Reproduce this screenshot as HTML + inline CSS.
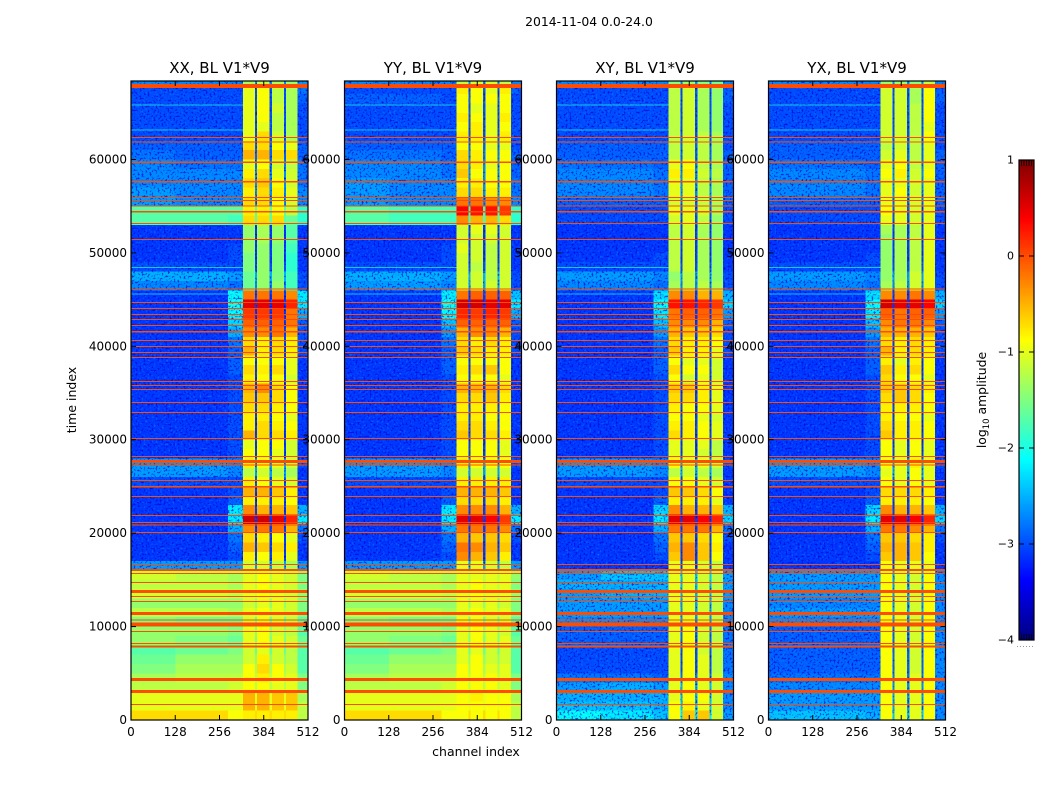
<!DOCTYPE html>
<html lang="en">
<head>
<meta charset="utf-8">
<title>2014-11-04 0.0-24.0</title>
<style>
html,body{margin:0;padding:0;background:#fff;width:1050px;height:800px;overflow:hidden}
svg{display:block}
text{font-family:"DejaVu Sans","Liberation Sans",sans-serif;fill:#000}
</style>
</head>
<body>
<svg id="chart" xmlns="http://www.w3.org/2000/svg" width="1050" height="800" viewBox="0 0 1050 800">
<defs id="defs">
<filter id="speckleLight" x="0" y="0" width="100%" height="100%" color-interpolation-filters="sRGB">
<feTurbulence type="fractalNoise" baseFrequency="0.48" numOctaves="1" seed="4"/>
<feColorMatrix type="matrix" values="0 0 0 0 0  0 0 0 0 0.6  0 0 0 0 1  4 0 0 0 -2.2"/>
</filter>
<filter id="speckleDark" x="0" y="0" width="100%" height="100%" color-interpolation-filters="sRGB">
<feTurbulence type="fractalNoise" baseFrequency="0.5" numOctaves="1" seed="11"/>
<feColorMatrix type="matrix" values="0 0 0 0 0  0 0 0 0 0  0 0 0 0 0.85  0 5 0 0 -2.6"/>
</filter>
</defs>
<text x="589" y="26" text-anchor="middle" font-size="12.4">2014-11-04 0.0-24.0</text>
<text transform="translate(76,400) rotate(-90)" text-anchor="middle" font-size="12.5">time index</text>
<text x="476" y="756" text-anchor="middle" font-size="12.5">channel index</text>
<text transform="translate(986,400) rotate(-90)" text-anchor="middle" font-size="12.4">log<tspan font-size="8.5" dy="3">10</tspan><tspan dy="-3"> amplitude</tspan></text>
<g id="panels"></g>
<g id="colorbar"></g>
</svg>
<script>
const panelTitles = ["XX, BL V1*V9", "YY, BL V1*V9", "XY, BL V1*V9", "YX, BL V1*V9"];
const xTicks = [0, 128, 256, 384, 512];
const yTicks = [0, 10000, 20000, 30000, 40000, 50000, 60000];
const colorbarTicks = [-4, -3, -2, -1, 0, 1];
const timeMax = 68400;
const channelMax = 512;
const rowSpan = 1000;
const channelEdges = [0, 128, 280, 324, 359, 365, 401, 408, 442, 448, 481, 512];
const channelColumn = [0, 1, 2, 3, 1, 4, 1, 5, 1, 6, 7];
const rfiTimes = [67870,62370,61870,59700,57620,55950,55630,55020,54410,53170,51460,46140,44710,44070,43430,42890,42210,41560,40640,40000,39360,38820,36250,35830,35400,34010,32940,30150,28230,27690,27300,25660,24970,23950,21910,21160,20870,20090,16670,16060,15700,14740,13780,13240,12710,11420,10700,10200,9490,8170,7850,4360,3070,1680];
const rfiDurations = [430,100,100,200,200,100,100,150,150,100,100,100,100,100,100,100,100,200,100,100,100,100,100,100,100,100,100,100,100,320,100,100,200,100,100,100,100,100,100,200,100,100,320,100,100,320,150,420,100,100,200,320,320,100];
const rfiLevel = 0;
const faintTimes = [65860, 63190, 48490, 45670];
const faintLevel = -2.0;
const colorMin = -4;
const colorMax = 1;

// Rows run from t = 68000 down to t = 0, one per rowSpan.
// Columns: left, mid, shoulder, band1, band2, band3, band4, right. Tenths of log10 amplitude.
const xxLevels = [
[-27,-27,-27,-13,-12,-13,-14,-26],[-30,-30,-30,-10,-9,-12,-13,-28],[-30,-30,-30,-10,-9,-12,-13,-29],[-30,-30,-30,-10,-9,-11,-13,-30],[-30,-30,-30,-10,-9,-12,-13,-30],[-30,-30,-30,-10,-10,-12,-13,-30],[-30,-30,-30,-10,-7,-11,-13,-30],[-29,-29,-29,-7,-7,-9,-10,-29],[-28,-29,-29,-5,-5,-7,-7,-29],[-27,-28,-28,-10,-9,-11,-12,-28],[-27,-27,-27,-8,-7,-10,-11,-28],[-27,-27,-27,-7,-6,-9,-11,-28],[-26,-27,-27,-8,-7,-8,-10,-27],[-26,-27,-27,-7,-7,-9,-11,-27],[-17,-17,-17,-8,-8,-9,-12,-19],[-17,-17,-18,-7,-7,-7,-16,-19],
[-31,-31,-31,-14,-13,-14,-17,-31],[-31,-31,-31,-14,-13,-14,-17,-31],[-31,-31,-30,-14,-14,-15,-18,-31],[-31,-31,-30,-15,-14,-15,-19,-31],[-30,-30,-30,-15,-14,-15,-19,-31],[-25,-25,-26,-16,-14,-15,-18,-30],[-27,-27,-28,-16,-14,-14,-18,-30],
[-31,-31,-21,-2,-2,-2,-3,-22],[-31,-31,-20,5,5,5,2,-22],[-31,-31,-21,1,1,1,-2,-25],[-31,-31,-23,-1,-1,-1,-2,-29],[-31,-31,-25,-3,-3,-2,-5,-30],[-31,-31,-28,-7,-8,-7,-8,-30],[-31,-31,-29,-5,-8,-7,-8,-30],[-31,-31,-29,-9,-9,-9,-10,-31],[-31,-31,-29,-7,-8,-7,-10,-31],[-31,-31,-30,-8,-9,-9,-11,-31],[-31,-31,-30,-5,-3,-7,-9,-31],[-31,-31,-30,-6,-6,-7,-9,-31],[-31,-31,-30,-7,-7,-8,-9,-31],[-31,-31,-30,-8,-8,-9,-10,-31],[-31,-31,-30,-8,-7,-8,-9,-31],[-31,-31,-30,-5,-7,-7,-8,-31],[-31,-31,-30,-10,-9,-9,-11,-31],[-31,-31,-30,-9,-9,-10,-11,-31],[-26,-26,-27,-8,-9,-10,-11,-30],[-26,-26,-27,-12,-11,-12,-13,-31],[-30,-30,-30,-8,-9,-10,-11,-31],[-31,-31,-30,-5,-5,-6,-8,-31],[-31,-31,-29,-8,-8,-8,-9,-31],[-31,-31,-22,-3,-5,-5,-6,-25],[-31,-31,-22,6,6,5,2,-22],[-31,-31,-25,-3,-2,-2,-5,-28],[-31,-31,-28,-7,-8,-9,-10,-30],[-31,-31,-29,-5,-6,-7,-8,-31],[-31,-31,-30,-8,-9,-8,-10,-31],[-26,-26,-26,-11,-11,-12,-13,-26],
[-11,-12,-13,-10,-9,-10,-11,-15],[-12,-12,-13,-10,-9,-10,-11,-15],[-11,-11,-12,-10,-9,-10,-11,-14],[-14,-14,-14,-11,-10,-10,-11,-15],[-12,-12,-13,-10,-9,-10,-11,-15],[-15,-16,-16,-11,-10,-11,-12,-17],[-14,-14,-15,-10,-9,-11,-12,-17],[-14,-15,-16,-10,-9,-10,-11,-16],[-17,-16,-15,-11,-10,-11,-12,-17],[-16,-14,-14,-11,-8,-11,-12,-17],[-15,-13,-13,-9,-7,-9,-11,-17],[-13,-12,-12,-9,-8,-9,-10,-15],[-12,-12,-11,-9,-9,-10,-10,-15],[-10,-10,-10,-5,-5,-6,-6,-13],[-10,-10,-10,-5,-5,-6,-6,-12],[-7,-7,-9,-8,-8,-8,-8,-12]
];
const yyLevels = [
[-27,-27,-27,-12,-11,-11,-12,-27],[-30,-30,-30,-8,-9,-10,-8,-29],[-29,-29,-30,-9,-9,-9,-9,-30],[-30,-30,-30,-9,-10,-10,-9,-30],[-30,-30,-30,-8,-9,-10,-8,-30],[-30,-30,-30,-9,-8,-10,-9,-30],[-30,-30,-30,-8,-8,-10,-8,-30],[-29,-29,-29,-9,-9,-10,-10,-30],[-28,-28,-29,-7,-8,-9,-9,-29],[-27,-27,-28,-7,-8,-10,-9,-29],[-27,-27,-28,-6,-9,-9,-9,-29],[-26,-27,-27,-8,-8,-9,-9,-28],[-26,-27,-27,-7,-7,-8,-8,-28],[-26,-27,-27,-2,-2,-3,-3,-27],[-17,-18,-18,4,3,3,1,-19],[-17,-18,-18,-3,-5,-5,-7,-19],
[-31,-31,-31,-11,-10,-10,-11,-31],[-31,-31,-31,-11,-11,-11,-11,-31],[-31,-31,-30,-10,-11,-12,-11,-31],[-31,-31,-30,-11,-11,-12,-11,-31],[-30,-30,-30,-11,-12,-12,-11,-31],[-25,-25,-26,-11,-11,-12,-11,-30],[-26,-26,-27,-11,-11,-11,-11,-30],
[-31,-31,-22,-2,-1,-1,-1,-24],[-31,-31,-20,6,6,5,5,-22],[-31,-31,-21,2,1,2,1,-25],[-31,-31,-24,-1,-1,-1,-1,-29],[-31,-31,-26,-5,-3,-3,-5,-30],[-31,-31,-28,-7,-8,-7,-8,-30],[-31,-31,-29,-6,-7,-8,-8,-30],[-31,-31,-29,-9,-9,-9,-9,-31],[-31,-31,-29,-8,-7,-6,-9,-31],[-31,-31,-30,-9,-9,-9,-10,-31],[-31,-31,-30,-5,-5,-5,-7,-31],[-31,-31,-30,-7,-7,-6,-8,-31],[-31,-31,-30,-8,-8,-8,-9,-31],[-31,-31,-30,-8,-8,-9,-9,-31],[-31,-31,-30,-7,-7,-8,-9,-31],[-31,-31,-30,-6,-7,-7,-8,-31],[-31,-31,-30,-9,-9,-9,-10,-31],[-31,-31,-30,-9,-9,-9,-10,-31],[-26,-26,-27,-8,-9,-9,-9,-30],[-26,-26,-27,-11,-11,-11,-11,-31],[-30,-30,-30,-8,-8,-8,-8,-31],[-31,-31,-30,-5,-5,-5,-6,-31],[-31,-31,-29,-7,-7,-7,-8,-31],[-31,-31,-22,-3,-3,-3,-5,-25],[-31,-31,-22,5,5,4,1,-22],[-31,-31,-25,-2,-2,-2,-3,-28],[-31,-31,-28,-5,-6,-6,-7,-30],[-31,-31,-29,-2,-3,-5,-6,-31],[-31,-31,-30,-3,-5,-6,-8,-31],[-26,-26,-26,-10,-10,-11,-12,-26],
[-11,-12,-13,-10,-10,-10,-10,-14],[-12,-12,-13,-10,-9,-10,-10,-15],[-11,-11,-12,-10,-9,-10,-10,-14],[-14,-14,-14,-10,-10,-10,-11,-15],[-12,-12,-13,-10,-9,-10,-10,-15],[-15,-16,-16,-10,-10,-11,-11,-17],[-14,-14,-15,-10,-9,-10,-11,-17],[-14,-15,-16,-10,-9,-10,-10,-16],[-17,-16,-15,-10,-10,-11,-11,-17],[-16,-14,-14,-10,-9,-11,-11,-17],[-15,-13,-13,-9,-9,-10,-10,-17],[-13,-12,-12,-9,-9,-9,-10,-15],[-12,-12,-11,-9,-9,-9,-10,-15],[-10,-10,-10,-9,-8,-9,-9,-13],[-10,-10,-10,-9,-9,-9,-9,-12],[-7,-7,-9,-9,-9,-9,-9,-12]
];
const xyLevels = [
[-27,-27,-27,-15,-14,-15,-16,-27],[-30,-30,-30,-12,-11,-13,-14,-29],[-30,-30,-30,-12,-11,-13,-14,-29],[-30,-30,-30,-12,-11,-13,-14,-30],[-30,-30,-30,-12,-11,-13,-14,-30],[-30,-30,-30,-12,-11,-13,-14,-30],[-30,-30,-30,-12,-11,-12,-13,-30],[-29,-29,-29,-12,-11,-12,-13,-30],[-29,-29,-29,-12,-11,-12,-13,-29],[-28,-28,-29,-10,-9,-12,-13,-29],[-27,-27,-28,-8,-8,-11,-12,-29],[-27,-27,-28,-10,-10,-12,-13,-29],[-27,-27,-28,-10,-10,-12,-13,-29],[-29,-29,-29,-11,-11,-12,-13,-29],[-30,-30,-30,-10,-10,-11,-13,-30],[-30,-30,-30,-11,-10,-12,-14,-30],
[-31,-31,-31,-12,-11,-13,-14,-31],[-31,-31,-31,-12,-11,-13,-14,-31],[-31,-31,-31,-12,-11,-13,-14,-31],[-31,-31,-30,-12,-11,-13,-14,-31],[-30,-30,-30,-12,-11,-13,-14,-31],[-26,-26,-27,-14,-12,-13,-14,-30],[-27,-27,-28,-13,-12,-12,-13,-30],
[-31,-31,-23,-3,-3,-5,-5,-25],[-31,-31,-21,3,3,2,1,-23],[-31,-31,-22,-2,-1,-1,-2,-26],[-31,-31,-24,-3,-3,-3,-5,-29],[-31,-31,-26,-5,-6,-6,-7,-30],[-31,-31,-28,-7,-8,-8,-9,-30],[-31,-31,-29,-6,-8,-8,-10,-30],[-31,-31,-29,-9,-10,-10,-11,-31],[-31,-31,-29,-7,-9,-9,-11,-31],[-31,-31,-30,-9,-11,-10,-11,-31],[-31,-31,-30,-6,-6,-8,-10,-31],[-31,-31,-30,-7,-7,-8,-10,-31],[-31,-31,-30,-8,-9,-9,-10,-31],[-31,-31,-30,-9,-9,-10,-11,-31],[-31,-31,-30,-8,-8,-9,-10,-31],[-31,-31,-30,-7,-8,-9,-10,-31],[-31,-31,-30,-10,-10,-10,-12,-31],[-31,-31,-30,-10,-10,-11,-12,-31],[-26,-26,-27,-9,-10,-10,-11,-30],[-26,-26,-27,-12,-11,-12,-13,-31],[-30,-30,-30,-9,-9,-10,-11,-31],[-31,-31,-30,-6,-6,-7,-9,-31],[-31,-31,-29,-8,-8,-8,-10,-31],[-31,-31,-23,-3,-5,-5,-6,-25],[-31,-31,-22,5,5,4,2,-23],[-31,-31,-25,-2,-2,-2,-5,-28],[-31,-31,-28,-6,-6,-7,-9,-30],[-31,-31,-29,-5,-3,-6,-8,-31],[-31,-31,-30,-6,-3,-6,-9,-31],[-31,-31,-31,-10,-10,-11,-12,-31],
[-26,-24,-24,-10,-10,-11,-12,-26],[-25,-25,-25,-10,-10,-11,-12,-26],[-26,-25,-25,-10,-10,-11,-12,-26],[-26,-26,-26,-10,-10,-11,-12,-27],[-26,-26,-26,-10,-10,-11,-12,-27],[-27,-27,-27,-10,-10,-11,-12,-27],[-29,-29,-29,-10,-9,-11,-12,-28],[-29,-29,-29,-10,-9,-11,-12,-28],[-30,-30,-30,-10,-9,-11,-12,-28],[-30,-30,-30,-10,-9,-10,-12,-28],[-30,-30,-30,-10,-9,-10,-12,-28],[-28,-28,-29,-10,-9,-10,-11,-27],[-26,-25,-26,-10,-9,-10,-11,-27],[-25,-25,-25,-10,-9,-9,-11,-27],[-24,-24,-25,-9,-8,-10,-11,-27],[-21,-22,-24,-9,-6,-6,-11,-26]
];
const yxLevels = [
[-27,-27,-27,-14,-14,-15,-12,-27],[-30,-30,-30,-11,-11,-13,-9,-29],[-30,-30,-30,-11,-11,-13,-9,-29],[-30,-30,-30,-11,-11,-12,-9,-30],[-30,-30,-30,-11,-11,-12,-9,-30],[-30,-30,-30,-11,-11,-12,-10,-30],[-30,-30,-30,-11,-11,-12,-9,-30],[-29,-29,-29,-12,-11,-12,-10,-30],[-29,-29,-29,-11,-10,-12,-10,-29],[-28,-28,-29,-10,-9,-12,-10,-29],[-27,-27,-28,-9,-8,-11,-9,-29],[-27,-27,-28,-10,-10,-11,-10,-29],[-27,-27,-28,-10,-9,-11,-10,-29],[-29,-29,-29,-10,-10,-11,-10,-29],[-30,-30,-30,-9,-10,-11,-10,-30],[-30,-30,-30,-10,-10,-11,-10,-30],
[-31,-31,-31,-13,-13,-12,-10,-31],[-31,-31,-31,-14,-13,-12,-10,-31],[-31,-31,-31,-14,-13,-12,-10,-31],[-31,-31,-30,-14,-13,-12,-10,-31],[-30,-30,-30,-14,-13,-12,-10,-31],[-26,-26,-27,-14,-13,-11,-10,-30],[-27,-27,-28,-13,-12,-11,-10,-30],
[-31,-31,-23,-3,-3,-2,-3,-25],[-31,-31,-21,6,5,5,4,-23],[-31,-31,-22,-1,-2,-1,-1,-26],[-31,-31,-24,-3,-2,-2,-3,-29],[-31,-31,-26,-5,-5,-5,-6,-30],[-31,-31,-28,-7,-8,-7,-8,-30],[-31,-31,-29,-5,-8,-7,-8,-30],[-31,-31,-29,-8,-10,-8,-9,-31],[-31,-31,-29,-6,-8,-7,-9,-31],[-31,-31,-30,-7,-9,-9,-10,-31],[-31,-31,-30,-6,-6,-7,-8,-31],[-31,-31,-30,-7,-6,-7,-9,-31],[-31,-31,-30,-8,-8,-8,-9,-31],[-31,-31,-30,-8,-9,-9,-10,-31],[-31,-31,-30,-7,-8,-8,-9,-31],[-31,-31,-30,-6,-8,-8,-9,-31],[-31,-31,-30,-9,-10,-9,-10,-31],[-31,-31,-30,-9,-10,-9,-10,-31],[-26,-26,-27,-9,-10,-8,-10,-30],[-26,-26,-27,-10,-10,-9,-10,-31],[-30,-30,-30,-9,-10,-9,-10,-31],[-31,-31,-30,-7,-7,-7,-8,-31],[-31,-31,-29,-8,-8,-8,-9,-31],[-31,-31,-23,-3,-5,-5,-6,-25],[-31,-31,-22,5,5,4,2,-23],[-31,-31,-25,-2,-2,-3,-5,-28],[-31,-31,-28,-6,-6,-7,-8,-30],[-31,-31,-29,-5,-5,-6,-8,-31],[-31,-31,-30,-6,-5,-6,-9,-31],[-31,-31,-31,-9,-10,-10,-10,-31],
[-26,-26,-26,-9,-10,-11,-9,-27],[-26,-26,-26,-9,-10,-11,-9,-27],[-26,-26,-26,-9,-10,-11,-9,-27],[-27,-27,-27,-9,-10,-11,-9,-27],[-26,-26,-26,-9,-10,-11,-9,-27],[-27,-27,-27,-9,-10,-11,-9,-27],[-29,-29,-29,-9,-10,-11,-9,-27],[-29,-29,-29,-9,-10,-11,-9,-27],[-29,-29,-29,-9,-10,-11,-9,-27],[-29,-29,-29,-9,-10,-11,-9,-27],[-29,-29,-29,-9,-10,-11,-9,-27],[-28,-28,-28,-9,-10,-10,-9,-27],[-27,-27,-27,-9,-10,-10,-9,-27],[-26,-26,-26,-9,-10,-10,-9,-27],[-26,-26,-26,-9,-10,-10,-9,-27],[-24,-24,-25,-9,-10,-10,-9,-27]
];
const panelLevels = [xxLevels, yyLevels, xyLevels, yxLevels];
const panelKeys = ["xx", "yy", "xy", "yx"];
const speckleCeiling = -20;

const SVGNS = "http://www.w3.org/2000/svg";
const panelLefts = [131, 344.5, 556.5, 768.5];
const panelWidth = 177;
const plotTop = 81;
const plotHeight = 639;

function jet(v) {
  const t = (v - colorMin) / (colorMax - colorMin);
  const ramp = (x) => Math.max(0, Math.min(1, x));
  const r = ramp(Math.min(4 * t - 1.5, -4 * t + 4.5));
  const g = ramp(Math.min(4 * t - 0.5, -4 * t + 3.5));
  const b = ramp(Math.min(4 * t + 0.5, -4 * t + 2.5));
  return "rgb(" + Math.round(r * 255) + "," + Math.round(g * 255) + "," + Math.round(b * 255) + ")";
}
function make(tag, parent, props, content) {
  const el = document.createElementNS(SVGNS, tag);
  for (const k in props) el.setAttribute(k, props[k]);
  if (content !== undefined) el.textContent = content;
  parent.appendChild(el);
  return el;
}
const timeToY = (t) => plotTop + plotHeight * (1 - t / timeMax);

const panelsRoot = document.getElementById("panels");
const defsRoot = document.getElementById("defs");
panelTitles.forEach(function (title, p) {
  const left = panelLefts[p];
  const channelToX = (c) => left + panelWidth * c / channelMax;
  const key = panelKeys[p];
  const levels = panelLevels[p];
  const group = make("g", panelsRoot, {});
  
  

  const speckleMask = make("mask", defsRoot, {id: "speckleMask" + p, maskUnits: "userSpaceOnUse", x: 0, y: 0, width: 1050, height: 800});
  levels.forEach(function (row, r) {
    const tLow = (levels.length - 1 - r) * rowSpan;
    const tHigh = Math.min(tLow + rowSpan, timeMax);
    const y0 = timeToY(tHigh);
    const y1 = timeToY(tLow);
    channelColumn.forEach(function (col, c) {
      const x0 = channelToX(channelEdges[c]);
      const x1 = channelToX(channelEdges[c + 1]);
      const cell = make("rect", group, {x: x0, y: y0, width: x1 - x0, height: y1 - y0, fill: jet(row[col] / 10), "shape-rendering": "crispEdges"});
      
      
      if (row[col] <= speckleCeiling) {
        make("rect", speckleMask, {x: x0, y: y0, width: x1 - x0, height: y1 - y0, fill: "#fff", "shape-rendering": "crispEdges"});
      }
    });
  });

  const lightHolder = make("g", group, {mask: "url(#speckleMask" + p + ")", opacity: 0.55});
  
  
  make("rect", lightHolder, {x: left, y: plotTop, width: panelWidth, height: plotHeight, filter: "url(#speckleLight)"});
  const darkHolder = make("g", group, {mask: "url(#speckleMask" + p + ")", opacity: 0.7});
  
  
  make("rect", darkHolder, {x: left, y: plotTop, width: panelWidth, height: plotHeight, filter: "url(#speckleDark)"});

  faintTimes.forEach(function (t) {
    const fl = make("rect", group, {x: left, y: timeToY(t), width: channelToX(324) - left, height: 1, fill: jet(faintLevel), opacity: 0.7, "shape-rendering": "crispEdges"});
    
    
  });

  rfiTimes.forEach(function (t, i) {
    const h = Math.max(1, rfiDurations[i] * plotHeight / timeMax);
    const line = make("rect", group, {x: left, y: timeToY(t) - h / 2, width: panelWidth, height: h, fill: jet(rfiLevel), "shape-rendering": "crispEdges"});
    
    
  });

  const frame = make("rect", group, {x: left, y: plotTop, width: panelWidth, height: plotHeight, fill: "none", stroke: "#000", "stroke-width": 1.2});
  
  

  xTicks.forEach(function (c) {
    const x = channelToX(c);
    const tb = make("line", group, {x1: x, x2: x, y1: plotTop + plotHeight, y2: plotTop + plotHeight - 5, stroke: "#000"});
    
    
    const tt = make("line", group, {x1: x, x2: x, y1: plotTop, y2: plotTop + 5, stroke: "#000"});
    
    
    const lab = make("text", group, {x: x, y: plotTop + plotHeight + 16, "text-anchor": "middle", "font-size": 12}, String(c));
    
    
  });
  yTicks.forEach(function (t) {
    const y = timeToY(t);
    const tl = make("line", group, {x1: left, x2: left + 5, y1: y, y2: y, stroke: "#000"});
    
    
    const tr = make("line", group, {x1: left + panelWidth, x2: left + panelWidth - 5, y1: y, y2: y, stroke: "#000"});
    
    
    const lab = make("text", group, {x: left - 4, y: y + 4, "text-anchor": "end", "font-size": 12}, String(t));
    
    
  });
  const ttl = make("text", group, {x: left + panelWidth / 2, y: 73, "text-anchor": "middle", "font-size": 15}, title);
  
  
});

const cbRoot = document.getElementById("colorbar");
const cbLeft = 1019, cbWidth = 15, cbTop = 160, cbHeight = 480;
const cbY = (v) => cbTop + cbHeight * (colorMax - v) / (colorMax - colorMin);
for (let px = 0; px < cbHeight; px += 2) {
  const v = colorMax - (px + 1) / cbHeight * (colorMax - colorMin);
  const seg = make("rect", cbRoot, {x: cbLeft, y: cbTop + px, width: cbWidth, height: 2, fill: jet(v), "shape-rendering": "crispEdges"});
  
  
}
const cbFrame = make("rect", cbRoot, {x: cbLeft, y: cbTop, width: cbWidth, height: cbHeight, fill: "none", stroke: "#000", "stroke-width": 1.2});


colorbarTicks.forEach(function (v) {
  const y = cbY(v);
  const a = make("line", cbRoot, {x1: cbLeft, x2: cbLeft + 5, y1: y, y2: y, stroke: "#000"});
  
  
  const b = make("line", cbRoot, {x1: cbLeft + cbWidth, x2: cbLeft + cbWidth - 5, y1: y, y2: y, stroke: "#000"});
  
  
  const lab = make("text", cbRoot, {x: 1014, y: y + 3.5, "text-anchor": "end", "font-size": 11}, String(v).replace("-", "\u2212"));
  
  
});
[0.17, 0.33, 0.5, 0.67, 0.83].forEach(function (f) {
  const x = cbLeft + cbWidth * f;
  const up = make("line", cbRoot, {x1: x, x2: x, y1: cbTop, y2: cbTop + 6, stroke: "#000", "stroke-width": 0.8});
  
  
  const dn = make("line", cbRoot, {x1: x, x2: x, y1: cbTop + cbHeight, y2: cbTop + cbHeight - 6, stroke: "#000", "stroke-width": 0.8});
  
  
});
const dots = make("line", cbRoot, {x1: 1017, x2: 1035, y1: 646.5, y2: 646.5, stroke: "#999", "stroke-width": 1, "stroke-dasharray": "1 2"});


</script>
</body>
</html>
